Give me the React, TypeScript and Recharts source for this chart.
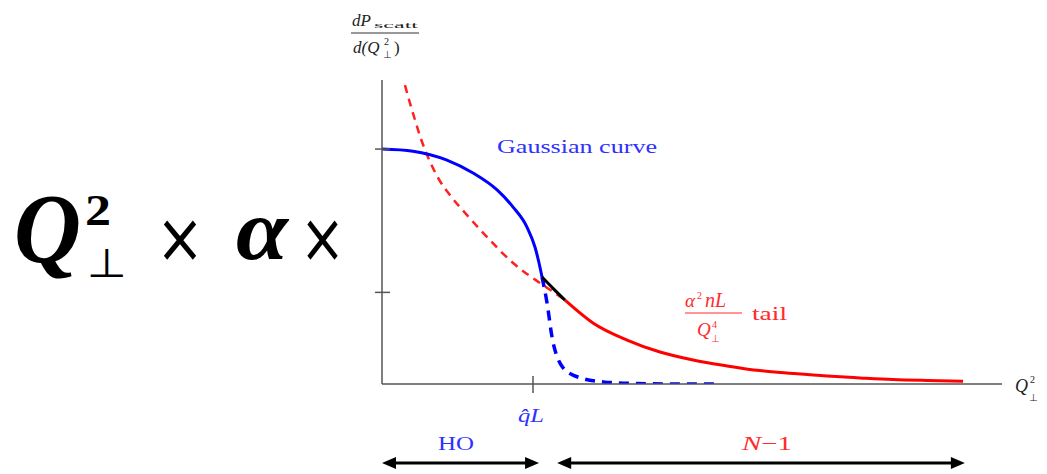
import { ComposedChart, Line, XAxis, YAxis } from 'recharts';

// x in units of qL (tick at 1), y in units of the Gaussian peak
const X_MAX = 4.106;
const Y_MAX = 1.294;
const X_TICKS = [1];
const Y_TICKS = [0.39, 1];

const gaussX = [0, 0.205, 0.43, 0.603, 0.762, 0.868, 0.96, 1.013, 1.04, 1.06];
const gaussY = [1.0, 0.991, 0.953, 0.898, 0.826, 0.753, 0.668, 0.583, 0.515, 0.455];

const joinX = [1.06, 1.136, 1.212];
const joinY = [0.455, 0.405, 0.357];

const tailX = [1.212, 1.397, 1.623, 1.841, 2.06, 2.285, 2.503, 2.722, 2.947, 3.166, 3.384, 3.609, 3.848];
const tailY = [0.357, 0.26, 0.187, 0.136, 0.102, 0.077, 0.057, 0.045, 0.034, 0.026, 0.019, 0.015, 0.012];

const tailDashX = [0.152, 0.185, 0.219, 0.252, 0.285, 0.331, 0.384, 0.45, 0.563, 0.695, 0.868, 1.046, 1.146, 1.212];
const tailDashY = [1.272, 1.196, 1.123, 1.055, 0.996, 0.928, 0.864, 0.804, 0.719, 0.626, 0.515, 0.43, 0.387, 0.357];

const gaussDashX = [1.06, 1.093, 1.126, 1.179, 1.265, 1.464, 1.689, 1.974, 2.238];
const gaussDashY = [0.455, 0.345, 0.2, 0.089, 0.038, 0.009, 0.002, 0, 0];

// arrows under the axis: harmonic oscillator range and N-1 range
const HO_RANGE = [0, 1.04];
const NM1_RANGE = [1.16, 3.86];

const toPoints = (xs: number[], ys: number[]) => xs.map((x, i) => ({ x, y: ys[i] }));

const W = 1047;
const H = 474;
const PLOT = { left: 382, top: 80, width: 620, height: 304 };
const AXIS_BAND = 30;
const xPx = (v: number) => PLOT.left + (v / X_MAX) * PLOT.width;
const AXIS = '#555';
const SERIF = '"Liberation Serif", "DejaVu Serif", serif';
const SYM = '"DejaVu Sans", sans-serif';
const BLUE_TEXT = '#3030ff';
const RED_TEXT = '#ff2a2a';

const YTick = ({ x, y }: any) => (
  <line x1={x - 7} x2={x + 8} y1={y} y2={y} stroke={AXIS} strokeWidth={1.5} />
);

const XTick = ({ x, y }: any) => (
  <g>
    <line x1={x} x2={x} y1={y - 8} y2={y + 9} stroke={AXIS} strokeWidth={1.5} />
    <text x={x - 2} y={y + 38} textAnchor="middle" fill={BLUE_TEXT} fontFamily={SERIF} fontStyle="italic" fontSize={18} textLength={26} lengthAdjust="spacingAndGlyphs">
      q̂L
    </text>
  </g>
);

const Arrow = ({ from, to, y }: { from: number; to: number; y: number }) => {
  const a = xPx(from);
  const b = xPx(to);
  return (
    <g>
      <line x1={a + 8} x2={b - 8} y1={y} y2={y} stroke="#000" strokeWidth={3} />
      <polygon points={`${a},${y} ${a + 14},${y - 6} ${a + 14},${y + 6}`} fill="#000" />
      <polygon points={`${b},${y} ${b - 14},${y - 6} ${b - 14},${y + 6}`} fill="#000" />
    </g>
  );
};

const lineProps = { dataKey: 'y', type: 'monotone' as const, dot: false, activeDot: false, isAnimationActive: false };

export default function App() {
  return (
    <div style={{ position: 'absolute', left: 0, top: 0, width: W, height: H, background: '#fff' }}>
      <ComposedChart
        width={W}
        height={H}
        margin={{
          top: PLOT.top,
          left: PLOT.left - AXIS_BAND,
          right: W - PLOT.left - PLOT.width,
          bottom: H - PLOT.top - PLOT.height - AXIS_BAND,
        }}
      >
        <XAxis
          type="number"
          dataKey="x"
          domain={[0, X_MAX]}
          ticks={X_TICKS}
          allowDataOverflow
          height={AXIS_BAND}
          tickSize={0}
          tickMargin={0}
          tick={XTick}
          axisLine={{ stroke: AXIS, strokeWidth: 1.5 }}
        />
        <YAxis
          type="number"
          dataKey="y"
          domain={[0, Y_MAX]}
          ticks={Y_TICKS}
          allowDataOverflow
          width={AXIS_BAND}
          tickSize={0}
          tickMargin={0}
          tick={YTick}
          axisLine={{ stroke: AXIS, strokeWidth: 1.5 }}
        />
        <Line {...lineProps} data={toPoints(tailDashX, tailDashY)} stroke="#ff2020" strokeWidth={2.5} strokeDasharray="8 6" />
        <Line {...lineProps} data={toPoints(gaussDashX, gaussDashY)} stroke="#0000ff" strokeWidth={3.5} strokeDasharray="10 7" />
        <Line {...lineProps} data={toPoints(gaussX, gaussY)} stroke="#0000ff" strokeWidth={3} />
        <Line {...lineProps} data={toPoints(tailX, tailY)} stroke="#ff0000" strokeWidth={3} />
        <Line {...lineProps} data={toPoints(joinX, joinY)} stroke="#000" strokeWidth={3} />
      </ComposedChart>

      <svg width={W} height={H} style={{ position: 'absolute', left: 0, top: 0, pointerEvents: 'none' }}>
        {/* big prefactor on the left */}
        <text fontFamily={SERIF} fill="#000">
          <tspan x={14} y={262} fontSize={100} fontWeight="bold" fontStyle="italic" textLength={67} lengthAdjust="spacingAndGlyphs">Q</tspan>
          <tspan x={85} y={225} fontSize={44} fontWeight="bold" textLength={26} lengthAdjust="spacingAndGlyphs">2</tspan>
          <tspan x={87} y={277} fontSize={40} fontFamily={SYM} textLength={40} lengthAdjust="spacingAndGlyphs">⊥</tspan>
          <tspan x={156} y={262} fontSize={70} fontFamily={SYM} textLength={48} lengthAdjust="spacingAndGlyphs">×</tspan>
          <tspan x={236} y={259} fontSize={86} fontWeight="bold" fontStyle="italic" textLength={52} lengthAdjust="spacingAndGlyphs">α</tspan>
          <tspan x={300} y={262} fontSize={70} fontFamily={SYM} textLength={45} lengthAdjust="spacingAndGlyphs">×</tspan>
        </text>

        {/* y axis label dP_scatt / d(Q^2_perp) */}
        <text fontFamily={SERIF} fill="#222">
          <tspan x={352} y={26} fontSize={17} fontStyle="italic">dP</tspan>
          <tspan x={374} y={28} fontSize={9} textLength={44} lengthAdjust="spacingAndGlyphs">scatt</tspan>
          <tspan x={353} y={53} fontSize={17} fontStyle="italic">d(Q</tspan>
          <tspan x={384} y={45} fontSize={10}>2</tspan>
          <tspan x={383} y={58} fontSize={10} fontFamily={SYM}>⊥</tspan>
          <tspan x={394} y={53} fontSize={17}>)</tspan>
        </text>
        <line x1={351} x2={419} y1={33} y2={33} stroke="#333" strokeWidth={1} />

        <text x={497} y={153} fontFamily={SERIF} fontSize={19} fill={BLUE_TEXT} textLength={160} lengthAdjust="spacingAndGlyphs">
          Gaussian curve
        </text>

        {/* tail label alpha^2 n L / Q^4_perp */}
        <text fontFamily={SERIF} fill={RED_TEXT}>
          <tspan x={685} y={307} fontSize={19} fontStyle="italic">α</tspan>
          <tspan x={697} y={299} fontSize={10}>2</tspan>
          <tspan x={705} y={307} fontSize={20} fontStyle="italic">nL</tspan>
          <tspan x={697} y={336} fontSize={19} fontStyle="italic">Q</tspan>
          <tspan x={712} y={328} fontSize={10}>4</tspan>
          <tspan x={711} y={342} fontSize={10} fontFamily={SYM}>⊥</tspan>
          <tspan x={752} y={320} fontSize={18} textLength={35} lengthAdjust="spacingAndGlyphs">tail</tspan>
        </text>
        <line x1={685} x2={742} y1={313} y2={313} stroke={RED_TEXT} strokeWidth={1.2} />

        {/* x axis label Q^2_perp */}
        <text fontFamily={SERIF} fill="#222">
          <tspan x={1015} y={392} fontSize={18} fontStyle="italic">Q</tspan>
          <tspan x={1030} y={383} fontSize={10}>2</tspan>
          <tspan x={1029} y={401} fontSize={10} fontFamily={SYM}>⊥</tspan>
        </text>

        <text x={456} y={450} textAnchor="middle" fontFamily={SERIF} fontSize={19} fill={BLUE_TEXT} textLength={36} lengthAdjust="spacingAndGlyphs">HO</text>
        <text x={767} y={450} textAnchor="middle" fontFamily={SERIF} fontSize={19} fill={RED_TEXT} textLength={50} lengthAdjust="spacingAndGlyphs">
          <tspan fontStyle="italic">N</tspan>−1
        </text>
        <Arrow from={HO_RANGE[0]} to={HO_RANGE[1]} y={463} />
        <Arrow from={NM1_RANGE[0]} to={NM1_RANGE[1]} y={463} />
      </svg>
    </div>
  );
}
